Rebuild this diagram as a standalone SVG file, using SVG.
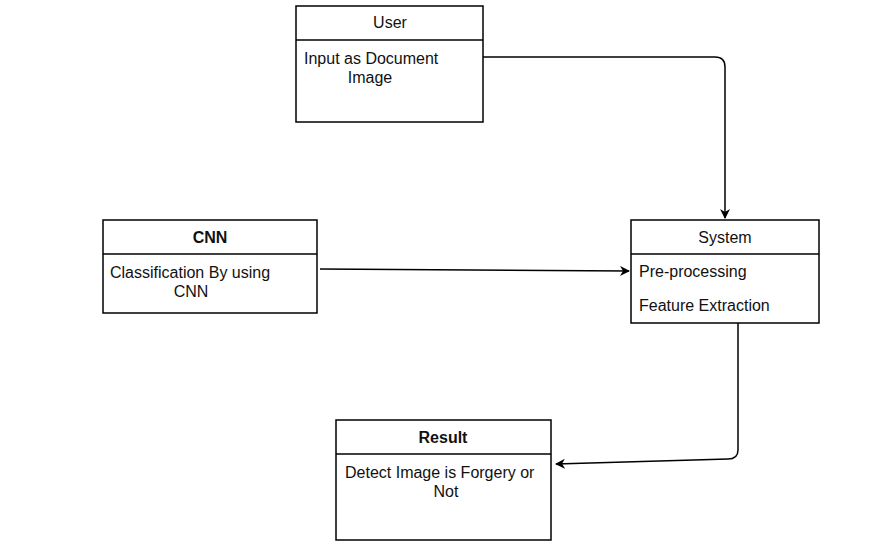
<svg xmlns="http://www.w3.org/2000/svg" width="878" height="547" viewBox="0 0 878 547">
<defs>
<style>
.box{fill:#fff;stroke:#000;stroke-width:1.5}
.sep{stroke:#000;stroke-width:1.5}
text{font-family:"Liberation Sans",Arial,sans-serif;font-size:16px;fill:#111}
.b{font-weight:bold}
.m{text-anchor:middle}
.edge{fill:none;stroke:#000;stroke-width:1.5}
</style>
<marker id="arr" viewBox="0 0 10 10" refX="9" refY="5" markerWidth="10" markerHeight="10" markerUnits="userSpaceOnUse" orient="auto">
<path d="M0,0 L10,5 L0,10 L3,5 Z" fill="#000"/>
</marker>
</defs>
<rect width="878" height="547" fill="#fff"/>
<g id="user">
<rect class="box" x="296" y="6" width="187" height="116"/>
<line class="sep" x1="296" y1="40" x2="483" y2="40"/>
<text class="m" x="390" y="28">User</text>
<text x="304" y="64">Input as Document</text>
<text class="m" x="370" y="83">Image</text>
</g>
<g id="cnn">
<rect class="box" x="103" y="220" width="214" height="93"/>
<line class="sep" x1="103" y1="254" x2="317" y2="254"/>
<text class="m b" x="210" y="243">CNN</text>
<text x="110" y="278">Classification By using</text>
<text class="m" x="191" y="297">CNN</text>
</g>
<g id="system">
<rect class="box" x="631" y="220" width="188" height="103"/>
<line class="sep" x1="631" y1="254" x2="819" y2="254"/>
<text class="m" x="725" y="243">System</text>
<text x="639" y="277">Pre-processing</text>
<text x="639" y="311">Feature Extraction</text>
</g>
<g id="result">
<rect class="box" x="336" y="420" width="215" height="120"/>
<line class="sep" x1="336" y1="454" x2="551" y2="454"/>
<text class="m b" x="443" y="443">Result</text>
<text x="345" y="478">Detect Image is Forgery or</text>
<text class="m" x="446" y="497">Not</text>
</g>
<g id="connectors">
<path class="edge" d="M483,57 L715,57 Q725,57 725,67 L725,218" marker-end="url(#arr)"/>
<path class="edge" d="M320,269 L629,271" marker-end="url(#arr)"/>
<path class="edge" d="M738,323 L738,450 Q738,459 728,459 L556,464" marker-end="url(#arr)"/>
</g>
</svg>
